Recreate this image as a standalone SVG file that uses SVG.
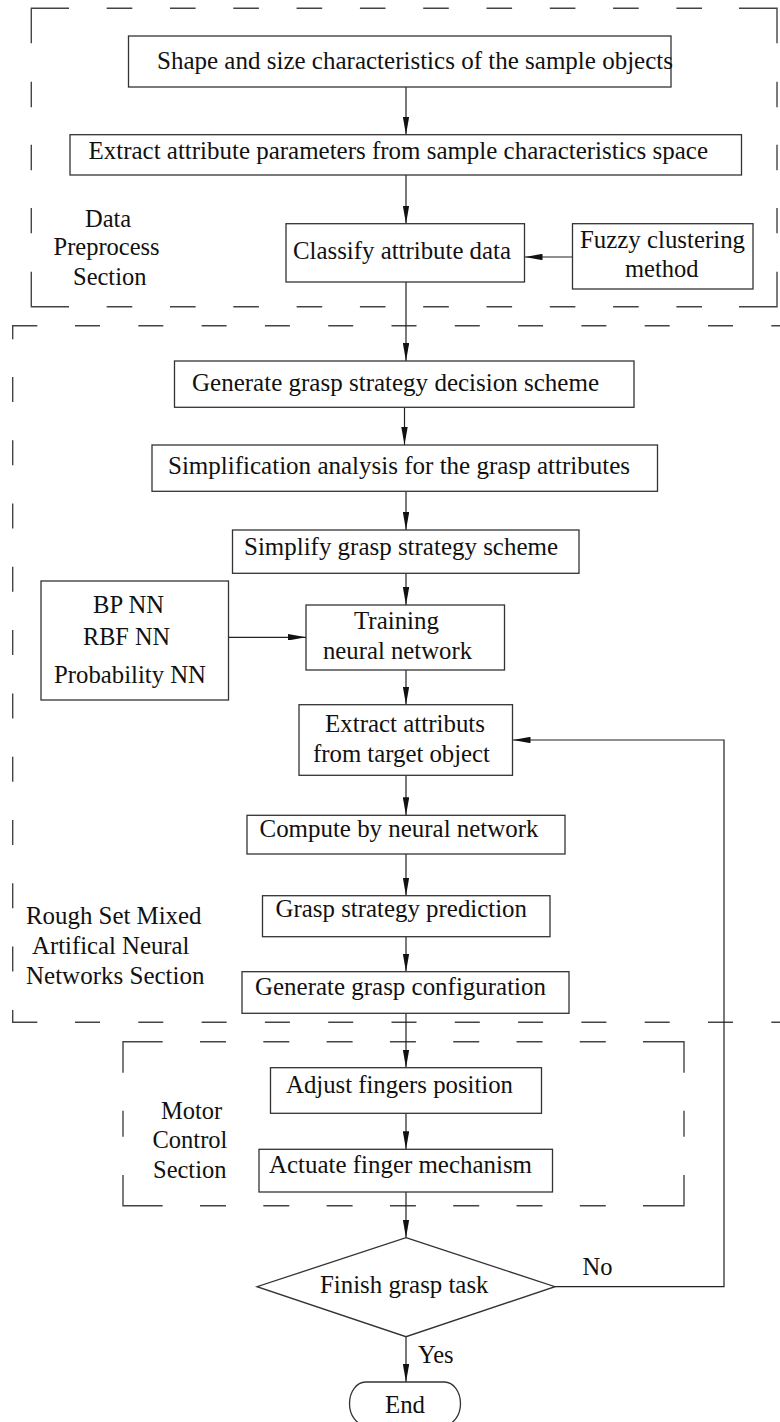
<svg xmlns="http://www.w3.org/2000/svg" width="780" height="1422" viewBox="0 0 780 1422">
<defs>
<marker id="ah" viewBox="0 0 18 6.4" markerWidth="18" markerHeight="6.4" refX="18" refY="3.2" orient="auto" markerUnits="userSpaceOnUse">
<path d="M0,0 L18,3.2 L0,6.4 z" fill="#111"/>
</marker>
</defs>
<style>
text{font-family:"Liberation Serif","Times New Roman",serif;font-size:24.5px;fill:#111}
.box{fill:#fff;stroke:#333;stroke-width:1.3}
.sec{fill:none;stroke:#444;stroke-width:1.4}
.conn{fill:none;stroke:#222;stroke-width:1.2;marker-end:url(#ah)}
.mid{text-anchor:middle}
</style>
<rect width="780" height="1422" fill="#fff"/>

<g id="section-data">
<path class="sec" d="M69,8.3 H31.3 V43.3 M739,8.3 H777 V43.3 M31.3,271.7 V306.7 H69 M777,271.7 V306.7 H739"/>
<line class="sec" x1="106.7" y1="8.3" x2="702" y2="8.3" stroke-dasharray="25.6 37.7"/>
<line class="sec" x1="106.7" y1="306.7" x2="702" y2="306.7" stroke-dasharray="25.6 37.7"/>
<line class="sec" x1="31.3" y1="81.7" x2="31.3" y2="233.3" stroke-dasharray="25.5 37.6"/>
<line class="sec" x1="777" y1="81.7" x2="777" y2="233.3" stroke-dasharray="25.5 37.6"/>
<text x="85" y="226.7">Data</text>
<text x="53.5" y="255">Preprocess</text>
<text x="73" y="285">Section</text>
</g>

<g id="section-rough">
<path class="sec" d="M37.3,325.7 H12.7 V339.2 M12.7,1010 V1022.3 H37.3"/>
<line class="sec" x1="75" y1="325.7" x2="790" y2="325.7" stroke-dasharray="25 38.3"/>
<line class="sec" x1="75" y1="1022.3" x2="790" y2="1022.3" stroke-dasharray="25 38.3"/>
<line class="sec" x1="12.7" y1="376.9" x2="12.7" y2="971.7" stroke-dasharray="25 38.3"/>
<text x="26" y="924" textLength="175.5" lengthAdjust="spacingAndGlyphs">Rough Set Mixed</text>
<text x="32" y="954" textLength="157.5" lengthAdjust="spacingAndGlyphs">Artifical Neural</text>
<text x="26" y="984" textLength="178.5" lengthAdjust="spacingAndGlyphs">Networks Section</text>
</g>

<g id="section-motor">
<path class="sec" d="M162.7,1041.7 H123 V1072.7 M643,1041.7 H684 V1072.7 M123,1175 V1205.7 H162.7 M684,1175 V1205.7 H643"/>
<line class="sec" x1="200" y1="1041.7" x2="606" y2="1041.7" stroke-dasharray="26 37.3"/>
<line class="sec" x1="200" y1="1205.7" x2="606" y2="1205.7" stroke-dasharray="26 37.3"/>
<line class="sec" x1="123" y1="1110.7" x2="123" y2="1136.7"/>
<line class="sec" x1="684" y1="1110.7" x2="684" y2="1136.7"/>
<text x="161" y="1119.3">Motor</text>
<text x="152.5" y="1148.3">Control</text>
<text x="153" y="1178.3">Section</text>
</g>

<g id="connectors">
<line class="conn" x1="406" y1="87" x2="406" y2="134.7"/>
<line class="conn" x1="406" y1="175" x2="406" y2="223.7"/>
<line class="conn" x1="572.5" y1="257" x2="524.5" y2="257"/>
<line class="conn" x1="406" y1="282" x2="406" y2="361"/>
<line class="conn" x1="404.5" y1="407.3" x2="404.5" y2="445"/>
<line class="conn" x1="406" y1="491.3" x2="406" y2="530"/>
<line class="conn" x1="406" y1="573.3" x2="406" y2="605"/>
<line class="conn" x1="228.5" y1="637.3" x2="306" y2="637.3"/>
<line class="conn" x1="406" y1="670" x2="406" y2="704.7"/>
<line class="conn" x1="406" y1="775.3" x2="406" y2="815.3"/>
<line class="conn" x1="406" y1="854" x2="406" y2="895.7"/>
<line class="conn" x1="406" y1="936.7" x2="406" y2="971.7"/>
<line class="conn" x1="406" y1="1013.3" x2="406" y2="1067.7"/>
<line class="conn" x1="406" y1="1113.3" x2="406" y2="1149.3"/>
<line class="conn" x1="406" y1="1192" x2="406" y2="1237.7"/>
<path class="conn" d="M555,1286.7 H724 V740 H512.5"/>
<line class="conn" x1="406" y1="1336.7" x2="406" y2="1382"/>
<text x="582.5" y="1275">No</text>
<text x="418" y="1363.3">Yes</text>
</g>

<g id="n-shape">
<rect class="box" x="128.5" y="36" width="542.5" height="51"/>
<text x="157" y="68.5" textLength="516" lengthAdjust="spacingAndGlyphs">Shape and size characteristics of the sample objects</text>
</g>
<g id="n-extract-params">
<rect class="box" x="70" y="134.7" width="671.5" height="40.3"/>
<text x="88.5" y="159" textLength="619.5" lengthAdjust="spacingAndGlyphs">Extract attribute parameters from sample characteristics space</text>
</g>
<g id="n-classify">
<rect class="box" x="286" y="223.7" width="238.5" height="58.3"/>
<text x="293" y="259" textLength="218" lengthAdjust="spacingAndGlyphs">Classify attribute data</text>
</g>
<g id="n-fuzzy">
<rect class="box" x="572.5" y="223.7" width="180.5" height="65.3"/>
<text x="580" y="247.7" textLength="165" lengthAdjust="spacingAndGlyphs">Fuzzy clustering</text>
<text x="625" y="276.7">method</text>
</g>
<g id="n-generate-scheme">
<rect class="box" x="174.5" y="361" width="459.5" height="46.3"/>
<text x="192" y="391" textLength="407" lengthAdjust="spacingAndGlyphs">Generate grasp strategy decision scheme</text>
</g>
<g id="n-simplification">
<rect class="box" x="152" y="445" width="505.5" height="46.3"/>
<text x="168" y="474.3" textLength="462" lengthAdjust="spacingAndGlyphs">Simplification analysis for the grasp attributes</text>
</g>
<g id="n-simplify">
<rect class="box" x="232.5" y="530" width="346.5" height="43.3"/>
<text x="244" y="555" textLength="314" lengthAdjust="spacingAndGlyphs">Simplify grasp strategy scheme</text>
</g>
<g id="n-nn-types">
<rect class="box" x="41" y="581" width="187.5" height="119"/>
<text x="93" y="613.3" textLength="71" lengthAdjust="spacingAndGlyphs">BP NN</text>
<text x="83" y="645.3" textLength="87" lengthAdjust="spacingAndGlyphs">RBF NN</text>
<text x="54" y="682.7" textLength="152" lengthAdjust="spacingAndGlyphs">Probability NN</text>
</g>
<g id="n-training">
<rect class="box" x="306" y="605" width="198.5" height="65"/>
<text x="354" y="629.3" textLength="85" lengthAdjust="spacingAndGlyphs">Training</text>
<text x="323" y="659" textLength="149" lengthAdjust="spacingAndGlyphs">neural network</text>
</g>
<g id="n-extract-target">
<rect class="box" x="299" y="704.7" width="213.5" height="70.6"/>
<text x="325" y="732.3" textLength="160" lengthAdjust="spacingAndGlyphs">Extract attributs</text>
<text x="313" y="761.7" textLength="177" lengthAdjust="spacingAndGlyphs">from target object</text>
</g>
<g id="n-compute">
<rect class="box" x="247" y="815.3" width="318" height="38.7"/>
<text x="259.5" y="836.7" textLength="279" lengthAdjust="spacingAndGlyphs">Compute by neural network</text>
</g>
<g id="n-prediction">
<rect class="box" x="262.5" y="895.7" width="287.5" height="41"/>
<text x="275.5" y="917.3" textLength="251.5" lengthAdjust="spacingAndGlyphs">Grasp strategy prediction</text>
</g>
<g id="n-configuration">
<rect class="box" x="242" y="971.7" width="327" height="41.6"/>
<text x="255" y="995" textLength="291" lengthAdjust="spacingAndGlyphs">Generate grasp configuration</text>
</g>
<g id="n-adjust">
<rect class="box" x="270.5" y="1067.7" width="271" height="45.6"/>
<text x="286" y="1093" textLength="227" lengthAdjust="spacingAndGlyphs">Adjust fingers position</text>
</g>
<g id="n-actuate">
<rect class="box" x="259" y="1149.3" width="293.5" height="42.7"/>
<text x="269" y="1173.3" textLength="263" lengthAdjust="spacingAndGlyphs">Actuate finger mechanism</text>
</g>
<g id="n-finish">
<polygon class="box" points="406,1237.7 555,1286.7 406,1336.7 257,1286.7"/>
<text x="320" y="1293.3" textLength="168.5" lengthAdjust="spacingAndGlyphs">Finish grasp task</text>
</g>
<g id="n-end">
<rect class="box" x="349.5" y="1382" width="111" height="43" rx="16" ry="21.5"/>
<text x="385" y="1413.3" textLength="40" lengthAdjust="spacingAndGlyphs">End</text>
</g>
</svg>
